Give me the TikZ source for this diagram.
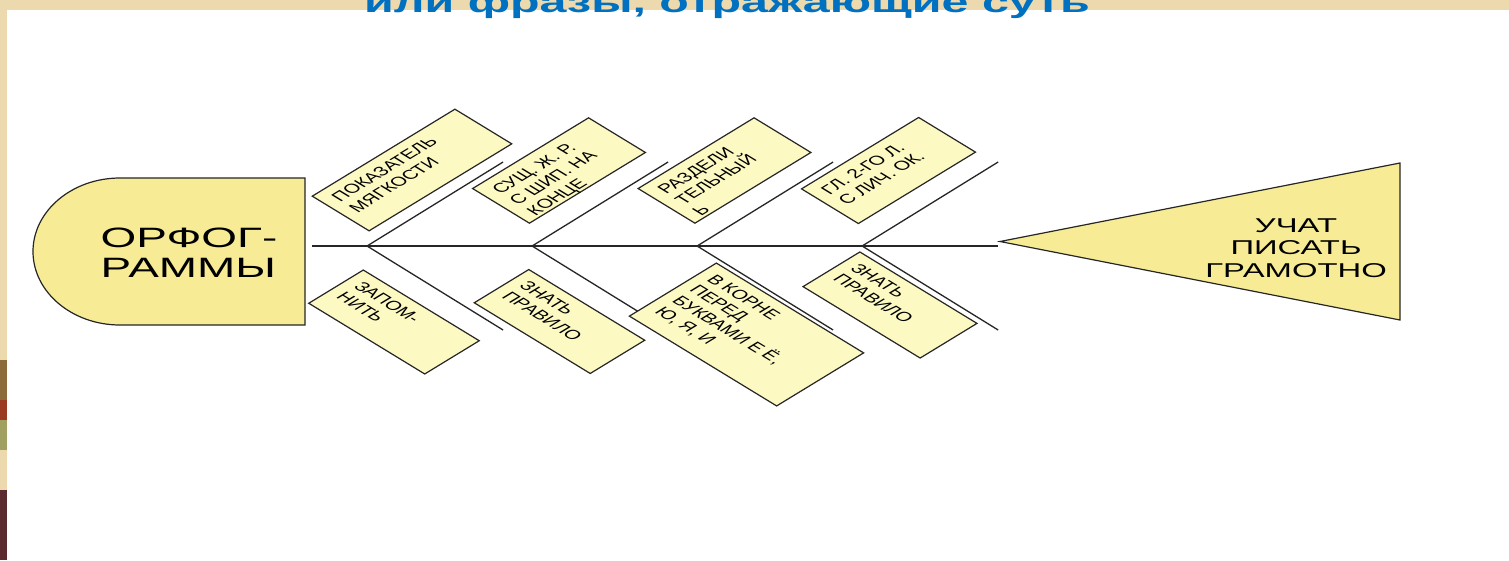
\documentclass[tikz,border=0pt]{standalone}
\usepackage{fontspec}
\setmainfont{Liberation Sans}
\usetikzlibrary{calc}
\definecolor{bg}{HTML}{EDD9AE}
\definecolor{boxfill}{HTML}{FCF9C3}
\definecolor{bigfill}{HTML}{F7EC95}
\definecolor{ln}{HTML}{262626}
\definecolor{titleblue}{HTML}{0070C0}
\definecolor{stripa}{HTML}{8C6A3A}
\definecolor{stripb}{HTML}{9A3A20}
\definecolor{stripc}{HTML}{A0A060}
\definecolor{stripd}{HTML}{5A2A30}
\begin{document}
\begin{tikzpicture}[x=0.609756pt, y=-1pt, xscale=1.64,
  every node/.style={transform shape},
  bone/.style={draw=ln, line width=1.3pt},
  fbox/.style={draw=ln, line width=1.2pt, fill=boxfill, inner sep=0pt, minimum height=49pt},
  ftext/.style={anchor=north west, align=left, inner xsep=8pt, inner ysep=8pt, font=\fontsize{13}{15}\selectfont, text=black},
  big/.style={draw=ln, line width=1.2pt, fill=bigfill}]
\useasboundingbox (0,0) rectangle (1509,560);
\clip (0,0) rectangle (1509,560);
% background
\fill[bg] (0,0) rectangle (1509,560);
\fill[stripa] (0,360) rectangle (7,400);
\fill[stripb] (0,400) rectangle (7,420);
\fill[stripc] (0,420) rectangle (7,450);
\fill[stripd] (0,490) rectangle (7,560);
\fill[white] (7,10) rectangle (1509,560);
% title (cut off)
\node[anchor=base, text=titleblue, font=\bfseries\fontsize{29.5}{30}\selectfont, inner sep=0pt] (title) at (727,12) {или фразы, отражающие суть};
% head shape
\draw[big] (305,178) -- (305,325) -- (120,325) .. controls (72,325) and (33,292) .. (33,251.5) .. controls (33,211) and (72,178) .. (120,178) -- cycle;
\node[align=left, font=\fontsize{28}{30}\selectfont, inner sep=0pt] (orf) at (189,253) {ОРФОГ-\\РАММЫ};
% tail triangle
\draw[big] (1000,241.5) -- (1400,163) -- (1400,320) -- cycle;
\node[align=center, font=\fontsize{20}{22.5}\selectfont, inner sep=0pt] (goal) at (1296,248) {УЧАТ\\ПИСАТЬ\\ГРАМОТНО};
% spine
\coordinate (s0) at (312,246);
\coordinate (s5) at (998,246);
\draw[bone] (s0) -- (s5);
\foreach \i/\x in {1/367,2/532,3/697,4/862}{
  \coordinate (j\i) at (\x,246);
  \coordinate (u\i) at (\x+136,162);
  \coordinate (d\i) at (\x+136,330);
  \draw[bone] (j\i) -- (u\i);
  \draw[bone] (j\i) -- (d\i);
}
% upper boxes
\node[fbox, minimum width=123pt, rotate=45] (bA) at (412,170) {};
\node[ftext, rotate=45] (tA) at (bA.north west) {ПОКАЗАТЕЛЬ\\МЯГКОСТИ};
\node[fbox, minimum width=100pt, rotate=45] (bB) at (559,170.5) {};
\node[ftext, rotate=45] (tB) at (bB.north west) {СУЩ. Ж. Р.\\С ШИП. НА\\КОНЦЕ};
\node[fbox, minimum width=100pt, rotate=45] (bC) at (724.5,170.5) {};
\node[ftext, rotate=45] (tC) at (bC.north west) {РАЗДЕЛИ\\ТЕЛЬНЫЙ\\Ь};
\node[fbox, minimum width=101pt, rotate=45] (bD) at (888.5,170.5) {};
\node[ftext, rotate=45] (tD) at (bD.north west) {ГЛ. 2-ГО Л.\\С ЛИЧ. ОК.};
% lower boxes
\node[fbox, minimum width=100pt, minimum height=47pt, rotate=-45] (bE) at (394,322) {};
\node[ftext, rotate=-45] (tE) at (bE.north west) {ЗАПОМ-\\НИТЬ};
\node[fbox, minimum width=100pt, minimum height=47pt, rotate=-45] (bF) at (559.5,321.5) {};
\node[ftext, rotate=-45] (tF) at (bF.north west) {ЗНАТЬ\\ПРАВИЛО};
\node[fbox, minimum width=127pt, minimum height=75pt, rotate=-45] (bG) at (746.5,334.5) {};
\node[ftext, rotate=-45] (tG) at (bG.north west) {В КОРНЕ\\ПЕРЕД\\БУКВАМИ Е Ё,\\Ю, Я, И};
\node[fbox, minimum width=101pt, rotate=-45] (bH) at (890,305) {};
\node[ftext, rotate=-45] (tH) at (bH.north west) {ЗНАТЬ\\ПРАВИЛО};
\end{tikzpicture}
\end{document}
